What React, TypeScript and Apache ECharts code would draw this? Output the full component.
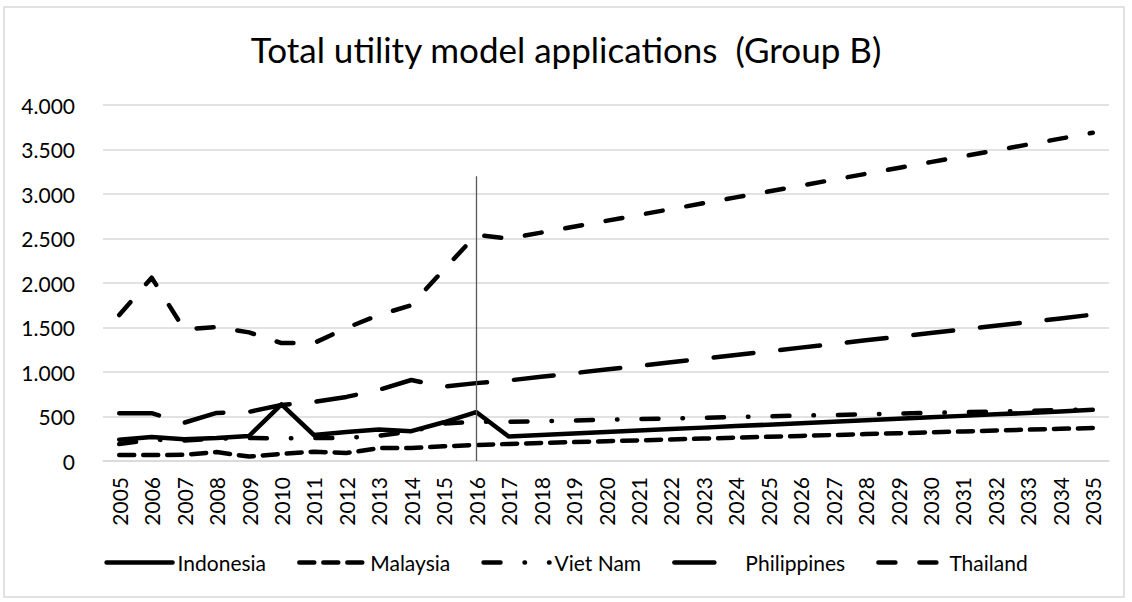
import React, { useEffect, useRef } from "react";
import * as echarts from "echarts";

const years = [
  "2005", "2006", "2007", "2008", "2009", "2010", "2011", "2012", "2013", "2014", "2015",
  "2016", "2017", "2018", "2019", "2020", "2021", "2022", "2023", "2024", "2025", "2026",
  "2027", "2028", "2029", "2030", "2031", "2032", "2033", "2034", "2035",
];

const indonesia = [
  240, 270, 245, 258, 281, 635, 292, 326, 355, 335, 435, 550,
  275, 292, 309, 326, 342, 359, 375, 392, 408, 425, 441, 458, 474, 491, 507, 524, 540, 556, 575,
];
const malaysia = [
  67, 67, 70, 100, 50, 80, 105, 90, 145, 145, 165, 180,
  192, 202, 212, 222, 232, 242, 252, 262, 272, 282, 292, 302, 312, 322, 332, 342, 352, 362, 370,
];
const vietNam = [
  190, 240, 230, 250, 258, 255, 258, 260, 285, 330, 420, 440,
  440, 448, 455, 463, 471, 479, 486, 494, 502, 510, 517, 525, 533, 541, 548, 556, 564, 572, 580,
];
const philippines = [
  537, 537, 430, 540, 552, 630, 665, 720, 800, 910, 835, 875,
  905, 946, 987, 1028, 1069, 1110, 1151, 1192, 1233, 1274, 1315, 1356, 1397, 1438, 1479, 1520, 1561, 1602, 1645,
];
const thailand = [
  1640, 2060, 1480, 1505, 1445, 1325, 1325, 1495, 1640, 1750, 2150, 2540,
  2500, 2566, 2632, 2698, 2764, 2830, 2896, 2962, 3028, 3094, 3160, 3226, 3292, 3358, 3424, 3490, 3556, 3622, 3688,
];

const yTicks = { min: 0, max: 4000, interval: 500 };
const markerYear = "2016";
const markerTop = 3200;

const FONT = "Lato";

function fmt(v: number): string {
  const s = String(Math.round(v));
  return s.replace(/\B(?=(\d{3})+(?!\d))/g, ".");
}

export default function App() {
  const ref = useRef<HTMLDivElement>(null);
  useEffect(() => {
    if (!ref.current) return;
    const chart = echarts.init(ref.current, undefined, { renderer: "svg" });
    const baseLine = (name: string, data: number[], dash: number[] | "solid") => ({
      name,
      type: "line",
      data,
      symbol: "none",
      showSymbol: false,
      lineStyle: {
        color: "#000",
        width: 4.5,
        type: dash,
        cap: "round",
        join: "round",
      },
      itemStyle: { color: "#000" },
      z: 3,
    });
    const indo: any = baseLine("Indonesia", indonesia, "solid");
    indo.markLine = {
      silent: true,
      symbol: "none",
      label: { show: false },
      lineStyle: { color: "#595959", width: 1.3, type: "solid" },
      data: [[{ coord: [markerYear, 0] }, { coord: [markerYear, markerTop] }]],
    };
    chart.setOption({
      animation: false,
      backgroundColor: "#fff",
      textStyle: { fontFamily: FONT },
      title: {
        text: "Total utility model applications  (Group B)",
        left: "center",
        top: 26,
        textStyle: { fontFamily: FONT, fontSize: 35, fontWeight: "normal", color: "#000" },
      },
      grid: { left: 103, right: 23, top: 105, bottom: 141, containLabel: false },
      xAxis: {
        type: "category",
        data: years,
        boundaryGap: true,
        axisLine: { show: true, lineStyle: { color: "#d9d9d9", width: 1.5 } },
        axisTick: { show: false },
        axisLabel: {
          interval: 0,
          rotate: 90,
          margin: 16,
          fontFamily: FONT,
          fontSize: 21,
          color: "#000",
        },
      },
      yAxis: {
        type: "value",
        min: yTicks.min,
        max: yTicks.max,
        interval: yTicks.interval,
        axisLine: { show: false },
        axisTick: { show: false },
        splitLine: { lineStyle: { color: "#d9d9d9", width: 1.5 } },
        axisLabel: {
          margin: 28,
          fontFamily: FONT,
          fontSize: 21,
          color: "#000",
          formatter: (v: number) => fmt(v),
        },
      },
      legend: {
        bottom: 24,
        left: "center",
        itemWidth: 66,
        itemHeight: 14,
        itemGap: 31,
        textStyle: { fontFamily: FONT, fontSize: 21, color: "#000" },
        itemStyle: { opacity: 0 },
        lineStyle: { width: 4.5 },
        data: ["Indonesia", "Malaysia", "Viet Nam", "Philippines", "Thailand"],
      },
      graphic: [
        {
          type: "rect",
          shape: { x: 4, y: 7, width: 1120, height: 590 },
          style: { fill: "none", stroke: "#d9d9d9", lineWidth: 1.5 },
          silent: true,
          z: -1,
        },
      ],
      series: [
        indo,
        baseLine("Malaysia", malaysia, [15, 9]),
        baseLine("Viet Nam", vietNam, [17, 24, 0.5, 24]),
        baseLine("Philippines", philippines, [40, 27]),
        baseLine("Thailand", thailand, [17, 24]),
      ],
    });
    return () => chart.dispose();
  }, []);
  return (
    <div
      ref={ref}
      style={{ position: "absolute", left: 0, top: 0, width: 1132, height: 602 }}
    />
  );
}
